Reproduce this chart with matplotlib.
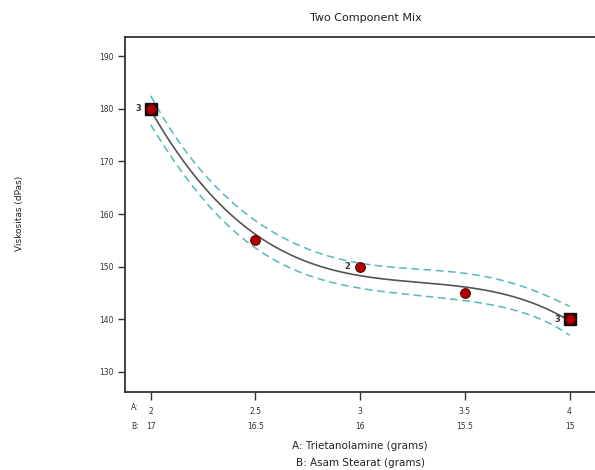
import numpy as np
import matplotlib.pyplot as plt
import matplotlib.transforms as mtransforms

# design points (A: Trietanolamine, B: Asam Stearat) and measured viskositas
a_vals = [2, 2.5, 3, 3.5, 4]
b_vals = [17, 16.5, 16, 15.5, 15]
visk = [180, 155, 150, 145, 140]
reps = [3, 1, 2, 1, 3]

y_ticks = [130, 140, 150, 160, 170, 180, 190]

# cubic fit on the design points
xs = np.array(a_vals, dtype=float)
ys = np.array(visk, dtype=float)
coef = np.polyfit(xs, ys, 3)
xx = np.linspace(2, 4, 200)
yy = np.polyval(coef, xx)

# interval band (leverage of the cubic model)
X = np.vander(xs, 4)
Xg = np.vander(xx, 4)
lev = np.sum((Xg @ np.linalg.inv(X.T @ X)) * Xg, axis=1)
band = 1.95 * np.sqrt(1 + lev)

fig = plt.figure(figsize=(5.95, 4.7), dpi=100)
ax = fig.add_axes([0.210, 0.166, 0.80, 0.755])

ax.plot(xx, yy, color="#555555", lw=1.2, zorder=2)
ax.plot(xx, yy + band, color="#55b7bc", lw=1.1, ls=(0, (5, 3)), zorder=2)
ax.plot(xx, yy - band, color="#55b7bc", lw=1.1, ls=(0, (5, 3)), zorder=2)

for x, y, r in zip(a_vals, visk, reps):
    if r >= 3:
        ax.plot(x, y, marker="s", ms=8.5, color="#111111", zorder=3)
    ax.plot(x, y, marker="o", ms=7, mfc="#b00000", mec="#600000", mew=0.8, zorder=4)
    if r > 1:
        ax.text(x - 0.045, y, str(r), fontsize=6, fontweight="bold",
                ha="right", va="center", color="#333333")

ax.set_xlim(1.877, 4.15)
ax.set_ylim(126.2, 193.6)

ax.set_yticks(y_ticks)
ax.tick_params(axis="y", labelsize=5.5, length=5, width=1, color="#333333",
               labelcolor="#333333", pad=3)
ax.set_xticks(a_vals)
ax.set_xticklabels([f"{v:g}" for v in a_vals])
ax.tick_params(axis="x", labelsize=5.5, length=6, width=1, color="#333333",
               labelcolor="#333333", pad=5)

for side in ["left", "bottom", "top"]:
    ax.spines[side].set_color("#333333")
    ax.spines[side].set_linewidth(1.3)
ax.spines["right"].set_visible(False)

trans = mtransforms.blended_transform_factory(ax.transData, ax.transAxes)
for x, b in zip(a_vals, b_vals):
    ax.text(x, -0.098, f"{b:g}", transform=trans, fontsize=5.5,
            ha="center", va="center", color="#333333")
ax.text(1.925, -0.044, "A:", transform=trans, fontsize=5.5, ha="center",
        va="center", color="#333333")
ax.text(1.925, -0.098, "B:", transform=trans, fontsize=5.5, ha="center",
        va="center", color="#333333")

ax.text(3.0, -0.152, "A: Trietanolamine (grams)", transform=trans,
        fontsize=7.5, ha="center", va="center", color="#222222")
ax.text(3.0, -0.2, "B: Asam Stearat (grams)", transform=trans,
        fontsize=7.5, ha="center", va="center", color="#222222")

fig.text(0.032, 0.545, "Viskositas (dPas)", rotation=90, fontsize=6.5,
         ha="center", va="center", color="#222222")
fig.text(0.615, 0.962, "Two Component Mix", fontsize=8, ha="center",
         va="center", color="#222222")

plt.savefig("out.png", dpi=100)
